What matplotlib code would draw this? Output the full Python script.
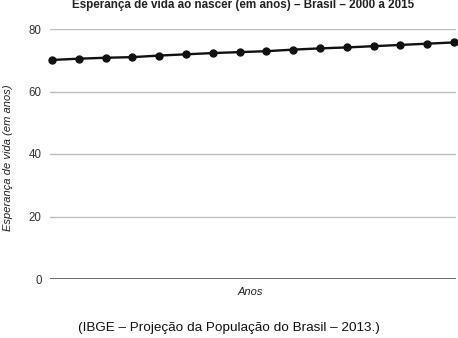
import numpy as np
import matplotlib
matplotlib.use("Agg")
import matplotlib.pyplot as plt

plt.rcParams['font.family'] = ['Liberation Sans', 'DejaVu Sans']

# Esperança de vida ao nascer, Brasil, 2000-2015
anos = list(range(2000, 2016))
esperanca = [70.1, 70.5, 70.8, 71.0, 71.5, 71.9, 72.3, 72.6, 72.9, 73.4,
             73.8, 74.1, 74.5, 74.9, 75.3, 75.7]
yticks = [0, 20, 40, 60, 80]

fig = plt.figure(figsize=(4.58, 3.38), dpi=100)
ax = fig.add_axes([50/458, 1 - 279/338, 406/458, 250/338])

x = np.arange(len(anos))
ax.plot(x, esperanca, color='#111111', lw=1.7, marker='o', ms=5,
        clip_on=False, zorder=3)

ax.set_xlim(-0.08, 15.08)
ax.set_ylim(0, 80)
ax.set_yticks(yticks)
ax.set_xticks([])
ax.grid(axis='y', color='#bdbdbd', lw=1.0)
ax.axhline(0, color='#555555', lw=1.2, zorder=2)
ax.tick_params(axis='y', length=0, pad=6, labelsize=8.3, labelcolor='#333333')
for s in ax.spines.values():
    s.set_visible(False)

fig.text(243/458, 1 - 5/338, 'Esperança de vida ao nascer (em anos) – Brasil – 2000 a 2015',
         ha='center', va='center', fontsize=8.4, fontweight='bold', color='#222222')
fig.text(8/458, 1 - 158/338, 'Esperança de vida (em anos)', rotation=90,
         ha='center', va='center', fontsize=8, style='italic', color='#222222')
fig.text(250/458, 1 - 292/338, 'Anos', ha='center', va='center',
         fontsize=8, style='italic', color='#222222')
fig.text(229/458, 1 - 328/338, '(IBGE – Projeção da População do Brasil – 2013.)',
         ha='center', va='center', fontsize=9.7, color='#111111')

fig.savefig('out.png', dpi=100)
